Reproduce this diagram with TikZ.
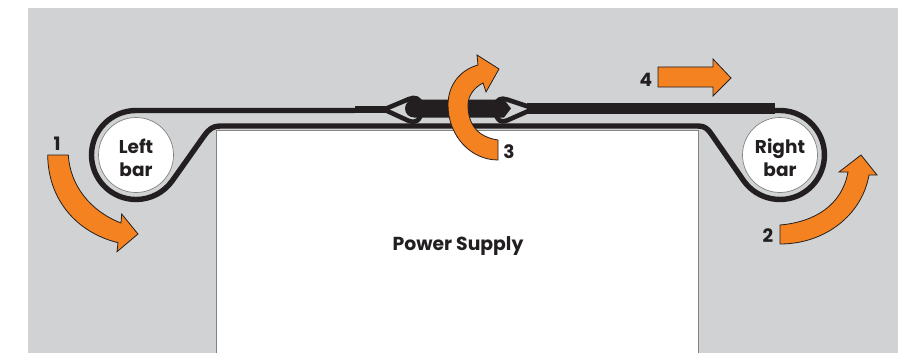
\documentclass[tikz,border=0pt]{standalone}
\usepackage{fontspec}
\setmainfont{Poppins}
\definecolor{bg}{RGB}{208,210,211}
\definecolor{ink}{RGB}{35,31,32}
\definecolor{org}{RGB}{245,130,32}
\definecolor{edge}{RGB}{130,130,130}
\newcommand{\lowered}[1]{\raisebox{-2.5pt}[\height][\depth]{#1}}
\tikzset{
 belt/.style={draw=ink,line width=5.4pt,line join=round},
 thick belt/.style={draw=ink,line width=10.5pt},
 clampline/.style={draw=ink,line width=4.6pt,line join=round},
 turn/.style={fill=org,draw=ink,line width=0.8pt,line join=miter},
 bar/.style={circle,draw=edge,line width=0.7pt,fill=white,minimum size=75pt,inner sep=0pt,align=center,font=\bfseries\fontsize{18.5}{23}\selectfont,text=ink},
 lab/.style={font=\bfseries\fontsize{18.5}{20}\selectfont,text=ink,inner sep=0pt},
}
\begin{document}
\begin{tikzpicture}[x=1pt,y=-1pt]
\useasboundingbox (0,0) rectangle (913,353);
\fill[bg] (28,8) rectangle (898,353);
\node[draw=edge,line width=1pt,fill=white,minimum width=482pt,minimum height=224pt,inner sep=0pt,outer sep=0pt,anchor=north west] (ps) at (216.5,130.5) {};
\node[font=\bfseries\fontsize{18.8}{20}\selectfont,text=ink] (pslabel) at (458,246.5) {Power Supply};
\node[bar] (lb) at (136,155) {\lowered{Left}\\\lowered{bar}};
\node[bar] (rb) at (780,155) {\lowered{Right}\\\lowered{bar}};
% belt
\draw[belt] (355,110.5) -- (136,110.5) arc[start angle=-90,end angle=-325,radius=44.5]
  -- (204,136) .. controls (209,129) and (213,126) .. (220,126)
  -- (698,126) .. controls (705,126) and (708,129) .. (712,135)
  -- (743.5,180.5) arc[start angle=145,end angle=-90,radius=44.5] -- (770,110.5);
\draw[thick belt] (527,108.5) -- (775,108.5);
\draw[draw=ink,line width=7pt] (355,109.5) -- (390,109.5);
% clamp body
\fill[ink] (414,99.5) -- (504,99.5) -- (511,108.5) -- (504,117.5) -- (414,117.5)
  arc[start angle=90,end angle=270,radius=9] -- cycle;
% left clamp
\draw[clampline] (384,109.5) -- (409,99) .. controls (415,96.5) and (420,98) .. (422,106);
\draw[clampline] (384,109.5) -- (409,121) .. controls (415,123.5) and (420,121) .. (422,111);
% right clamp
\draw[clampline] (534,108.5) -- (507,99.5) .. controls (501,97.5) and (497,99) .. (495,106);
\draw[clampline] (534,108.5) -- (507,120.5) .. controls (501,123) and (497,121) .. (495,111);
% arrows
\draw[turn] (47.7,155) -- (68.3,155) .. controls (70,185) and (90,211) .. (121,223)
  -- (121.7,214) -- (138,234) -- (117,251.7) -- (118,242.7)
  .. controls (75,232) and (48,198) .. cycle;
\draw[turn] (780,225) .. controls (815,222) and (842,205) .. (848,172)
  -- (839,172) -- (861,155) -- (877,175) -- (869,175)
  .. controls (862,215) and (825,244) .. (780,244) -- cycle;
\draw[turn] (498,140) .. controls (478,137) and (468,125) .. (468,105)
  .. controls (468,95) and (475,87) .. (483,83) -- (486,92) -- (499,69) -- (477,55) -- (478,65)
  .. controls (460,70) and (448,85) .. (448,105)
  .. controls (448,135) and (470,160) .. (498,160) -- cycle;
\draw[turn] (658,67) -- (713,67) -- (713,59) -- (731,78) -- (713,96) -- (713,87) -- (658,87) -- cycle;
% labels
\node[lab] (n1) at (57,143.5) {1};
\node[lab] (n2) at (768,236) {2};
\node[lab] (n3) at (509,152) {3};
\node[lab] (n4) at (646,80) {4};
\end{tikzpicture}
\end{document}
